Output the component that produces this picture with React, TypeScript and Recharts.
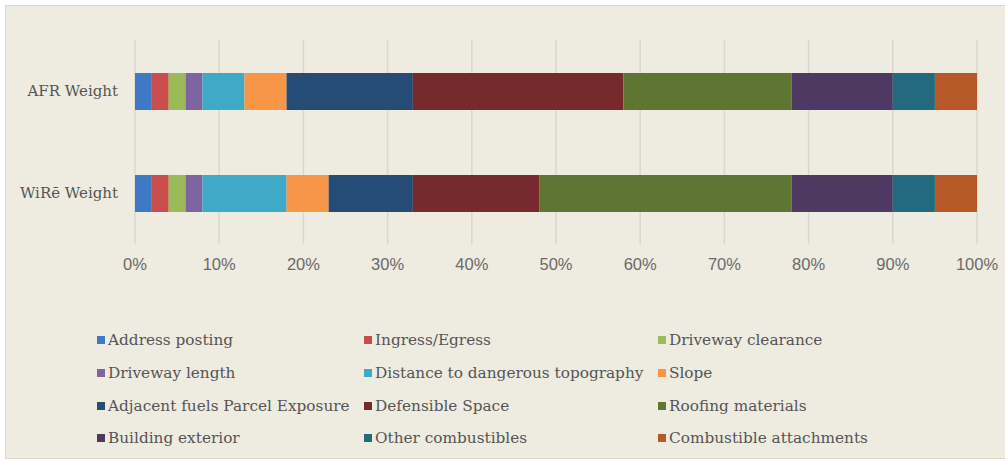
import React from 'react';
import { BarChart, Bar, XAxis, YAxis, CartesianGrid, Legend } from 'recharts';

const categories = ['AFR Weight', 'WiRē Weight'];
const seriesNames = [
  'Address posting',
  'Ingress/Egress',
  'Driveway clearance',
  'Driveway length',
  'Distance to dangerous topography',
  'Slope',
  'Adjacent fuels Parcel Exposure',
  'Defensible Space',
  'Roofing materials',
  'Building exterior',
  'Other combustibles',
  'Combustible attachments',
];
const seriesColors = [
  '#3F78C3',
  '#C94D4C',
  '#9BBB59',
  '#8064A2',
  '#3FAAC7',
  '#F79646',
  '#264B74',
  '#772A2B',
  '#5F7632',
  '#4D3962',
  '#226A7E',
  '#B65827',
];
const afrWeights = [2, 2, 2, 2, 5, 5, 15, 25, 20, 12, 5, 5];
const wireWeights = [2, 2, 2, 2, 10, 5, 10, 15, 30, 12, 5, 5];
const tickValues = [0, 0.1, 0.2, 0.3, 0.4, 0.5, 0.6, 0.7, 0.8, 0.9, 1];

const seriesValues = [afrWeights, wireWeights];
const data = categories.map((name, i) => {
  const row: Record<string, any> = { name };
  seriesNames.forEach((_, j) => {
    row['s' + j] = seriesValues[i][j];
  });
  return row;
});

const serif = "'DejaVu Serif', 'Liberation Serif', serif";

const LegendContent = () => {
  return (
    <div
      style={{
        display: 'grid',
        gridTemplateColumns: '267px 294px auto',
        gridAutoRows: '32.7px',
        fontFamily: serif,
        fontSize: 15.3,
        color: '#555555',
      }}
    >
      {seriesNames.map((name, i) => (
        <div key={name} style={{ display: 'flex', alignItems: 'center', whiteSpace: 'nowrap' }}>
          <span
            style={{
              display: 'inline-block',
              width: 8,
              height: 8,
              background: seriesColors[i],
              marginRight: 3,
              flex: 'none',
            }}
          />
          <span>{name}</span>
        </div>
      ))}
    </div>
  );
};

export default function App() {
  return (
    <div style={{ position: 'relative', width: 1005, height: 461, background: '#ffffff', overflow: 'hidden' }}>
      <style>{'body{margin:0;}'}</style>
      <div
        style={{
          position: 'absolute',
          left: 5,
          top: 5,
          width: 1010,
          height: 454,
          background: '#EEEBE0',
          border: '1px solid #D8D6D0',
          boxSizing: 'border-box',
        }}
      />
      <div style={{ position: 'absolute', left: 0, top: 0 }}>
        <BarChart
          width={1005}
          height={461}
          data={data}
          layout="vertical"
          stackOffset="expand"
          barCategoryGap={0}
          margin={{ top: 40, right: 28, left: 0, bottom: 0 }}
        >
          <CartesianGrid horizontal={false} vertical={true} stroke="#D9D7D0" strokeWidth={1.5} />
          <XAxis
            type="number"
            domain={[0, 1]}
            ticks={tickValues}
            tickFormatter={(v: number) => `${Math.round(v * 100)}%`}
            axisLine={false}
            tickLine={false}
            tickMargin={8}
            height={217}
            tick={{ fill: '#6A6A6A', fontSize: 16.5, fontFamily: "'Liberation Sans', Arial, sans-serif" }}
          />
          <YAxis
            type="category"
            dataKey="name"
            width={135}
            axisLine={false}
            tickLine={false}
            tickMargin={11}
            tick={{ fill: '#555555', fontSize: 15, fontFamily: serif }}
          />
          <Legend
            layout="horizontal"
            verticalAlign="middle"
            align="center"
            content={<LegendContent />}
            wrapperStyle={{ top: 324, left: 97, width: 900 }}
          />
          {seriesNames.map((s, j) => (
            <Bar
              key={s}
              dataKey={'s' + j}
              name={s}
              stackId="a"
              fill={seriesColors[j]}
              barSize={37}
              isAnimationActive={false}
            />
          ))}
        </BarChart>
      </div>
    </div>
  );
}
